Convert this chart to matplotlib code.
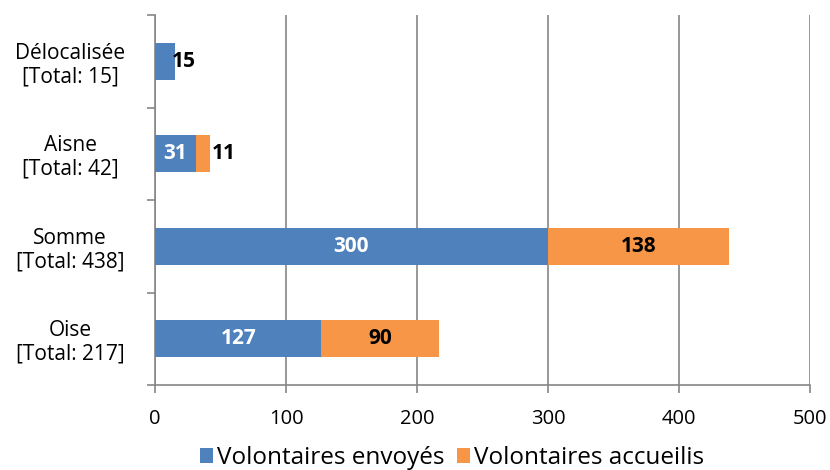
import numpy as np
import matplotlib
matplotlib.use("Agg")
from matplotlib import pyplot as plt
from matplotlib import ticker as tck

plt.rcParams['font.family'] = ['Open Sans', 'DejaVu Sans']

# data, bottom to top
categories = ["Oise\n[Total: 217]", "Somme\n[Total: 438]", "Aisne\n[Total: 42]", "Délocalisée\n[Total: 15]"]
envoyes = [127, 300, 31, 15]
accueilis = [90, 138, 11, 0]
series_names = ["Volontaires envoyés", "Volontaires accueilis"]

blue = "#4F81BD"
orange = "#F79646"
axis_grey = "#868686"

fig = plt.figure(figsize=(8.3, 4.7), dpi=100)
ax = fig.add_axes([155 / 830, 1 - 385 / 470, 655 / 830, 370 / 470])

y = np.arange(len(categories))
h = 0.4
b1 = ax.barh(y, envoyes, height=h, color=blue, label=series_names[0], zorder=3)
b2 = ax.barh(y, accueilis, height=h, left=envoyes, color=orange, label=series_names[1], zorder=3)

# data labels
lab_kw = dict(va='center', fontsize=15, fontweight='bold', zorder=4)
for i in range(len(categories)):
    e, a = envoyes[i], accueilis[i]
    if e >= 25:
        ax.text(e / 2, y[i], str(e), ha='center', color='white', **lab_kw)
    else:
        ax.annotate(str(e), (e, y[i]), xytext=(-2, 0), textcoords='offset points',
                    ha='left', color='black', **lab_kw)
    if a == 0:
        continue
    if a >= 25:
        ax.text(e + a / 2, y[i], str(a), ha='center', color='black', **lab_kw)
    else:
        ax.annotate(str(a), (e + a, y[i]), xytext=(1, 0), textcoords='offset points',
                    ha='left', color='black', **lab_kw)

ax.set_xlim(0, 500)
ax.set_ylim(-0.5, len(categories) - 0.5)
ax.xaxis.set_major_locator(tck.MultipleLocator(100))
ax.grid(axis='x', color=axis_grey, linewidth=1.2, zorder=0)

ax.set_yticks(y)
ax.set_yticklabels(categories, fontsize=15, ha='center', linespacing=1.15)
ax.yaxis.set_minor_locator(tck.FixedLocator(np.arange(-0.5, len(categories), 1)))
ax.tick_params(axis='y', which='major', length=0, pad=61)
ax.tick_params(axis='y', which='minor', length=6, color=axis_grey, width=1.2)
ax.tick_params(axis='x', length=6, color=axis_grey, width=1.2, labelsize=14.5, pad=11)

for s in ['top', 'right']:
    ax.spines[s].set_visible(False)
for s in ['left', 'bottom']:
    ax.spines[s].set_color(axis_grey)
    ax.spines[s].set_linewidth(1.2)

fig.legend(handles=[b1, b2], loc='center', bbox_to_anchor=(452 / 830, 1 - 458 / 470),
           ncol=2, frameon=False, fontsize=17.5, handlelength=0.55, handleheight=0.55,
           handletextpad=0.15, columnspacing=0.5, borderaxespad=0)

fig.savefig("out.png", dpi=100)
